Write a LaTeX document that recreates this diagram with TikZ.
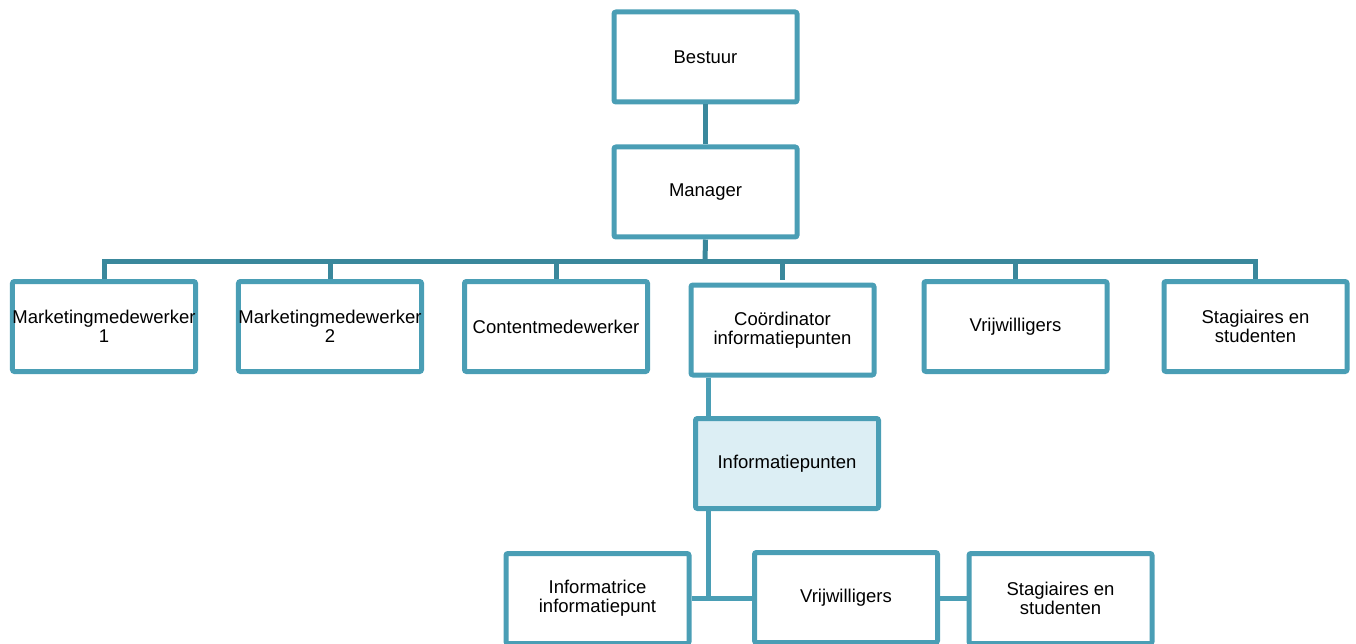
\documentclass[tikz,border=0pt]{standalone}
\usepackage{fontspec}
\setmainfont{Liberation Sans}
\definecolor{boxline}{RGB}{74,158,181}
\definecolor{conn}{RGB}{58,136,156}
\definecolor{infofill}{RGB}{220,238,244}
\begin{document}
\begin{tikzpicture}[x=1pt,y=-1pt,
  orgbox/.style={draw=boxline,line width=5pt,fill=white,rounded corners=2pt,
    minimum width=183pt,minimum height=90pt,inner sep=0pt,align=center,
    font=\fontsize{18.5}{19}\selectfont},
  link/.style={draw=conn,line width=5pt},
  link2/.style={draw=boxline,line width=5pt}]
\useasboundingbox (0,0) rectangle (1356,644);
\coordinate (bus) at (705,261);
\coordinate (tx) at (708,0);
\node[orgbox] (bestuur) at (705.5,57) {Bestuur};
\node[orgbox] (manager) at (705.5,192) {Manager};
\draw[link] (bestuur.south) -- (manager.north);
\draw[link] (manager.south) -- (bus);
\foreach \x in {104,330,556,782.5,1015.5,1255.5}{
  \draw[link] (bus) -| (\x,280);
}
\node[orgbox] (mmA) at (104,326.5) {Marketingmedewerker\\1};
\node[orgbox] (mmB) at (330,326.5) {Marketingmedewerker\\2};
\node[orgbox] (content) at (556,326.5) {Contentmedewerker};
\node[orgbox] (coord) at (782.5,330) {Coördinator\\informatiepunten};
\node[orgbox] (vrij) at (1015.5,326.5) {Vrijwilligers};
\node[orgbox] (stag) at (1255.5,326.5) {Stagiaires en\\studenten};
\node[orgbox,fill=infofill] (info) at (787,463.5) {Informatiepunten};
\node[orgbox] (informatrice) at (597.5,598.5) {Informatrice\\informatiepunt};
\node[orgbox] (vrijB) at (846,597.5) {Vrijwilligers};
\node[orgbox] (stagB) at (1060.5,598.5) {Stagiaires en\\studenten};
\draw[link2] (coord.south -| tx) -- (info.north -| tx);
\draw[link2] (info.south -| tx) -- (tx |- informatrice.east);
\draw[link2] (informatrice.east) -- (informatrice.east -| vrijB.west);
\draw[link2] (vrijB.east |- stagB.west) -- (stagB.west);
\end{tikzpicture}
\end{document}
